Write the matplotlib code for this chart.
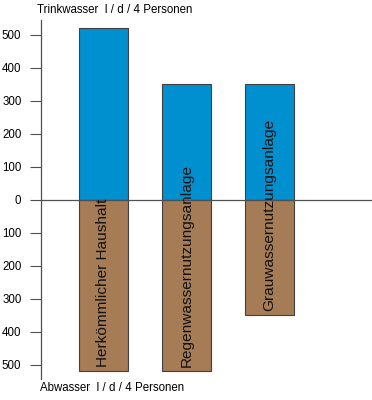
import matplotlib.pyplot as plt

plt.rcParams['font.family'] = ['Liberation Sans', 'DejaVu Sans']

categories = ['Herkömmlicher Haushalt', 'Regenwassernutzungsanlage', 'Grauwassernutzungsanlage']
trinkwasser = [520, 350, 350]
abwasser = [520, 520, 350]
ticks = [-500, -400, -300, -200, -100, 0, 100, 200, 300, 400, 500]

blue = '#0090d0'
brown = '#a57c55'
edge = '#404040'

fig = plt.figure(figsize=(3.72, 4.0), dpi=100)
ax = fig.add_axes([0.110, 0.0525, 0.89, 0.8975])

x = range(len(categories))
ax.bar(x, trinkwasser, width=0.59, color=blue, edgecolor=edge, linewidth=0.8)
ax.bar(x, [-v for v in abwasser], width=0.59, color=brown, edgecolor=edge, linewidth=0.8)

for i, name in enumerate(categories):
    ax.text(i, -abwasser[i] + 12, name, rotation=90, ha='center', va='bottom',
            fontsize=11.1, color='#111111')

ax.axhline(0, color='#505050', linewidth=0.9)

ax.set_xlim(-0.753, 3.235)
ax.set_ylim(-543, 545)
ax.set_yticks(ticks)
ax.set_yticklabels([str(abs(t)) for t in ticks], fontsize=8.3)
ax.tick_params(axis='y', direction='out', length=8, width=0.8, color='#505050', pad=6)
ax.set_xticks([])

for side in ['top', 'right', 'bottom']:
    ax.spines[side].set_visible(False)
ax.spines['left'].set_color('#505050')
ax.spines['left'].set_linewidth(0.9)

fig.text(0.10, 0.975, 'Trinkwasser  l / d / 4 Personen', fontsize=8.3, va='center', ha='left')
fig.text(0.108, 0.03, 'Abwasser  l / d / 4 Personen', fontsize=8.3, va='center', ha='left')

fig.savefig('out.png', dpi=100)
